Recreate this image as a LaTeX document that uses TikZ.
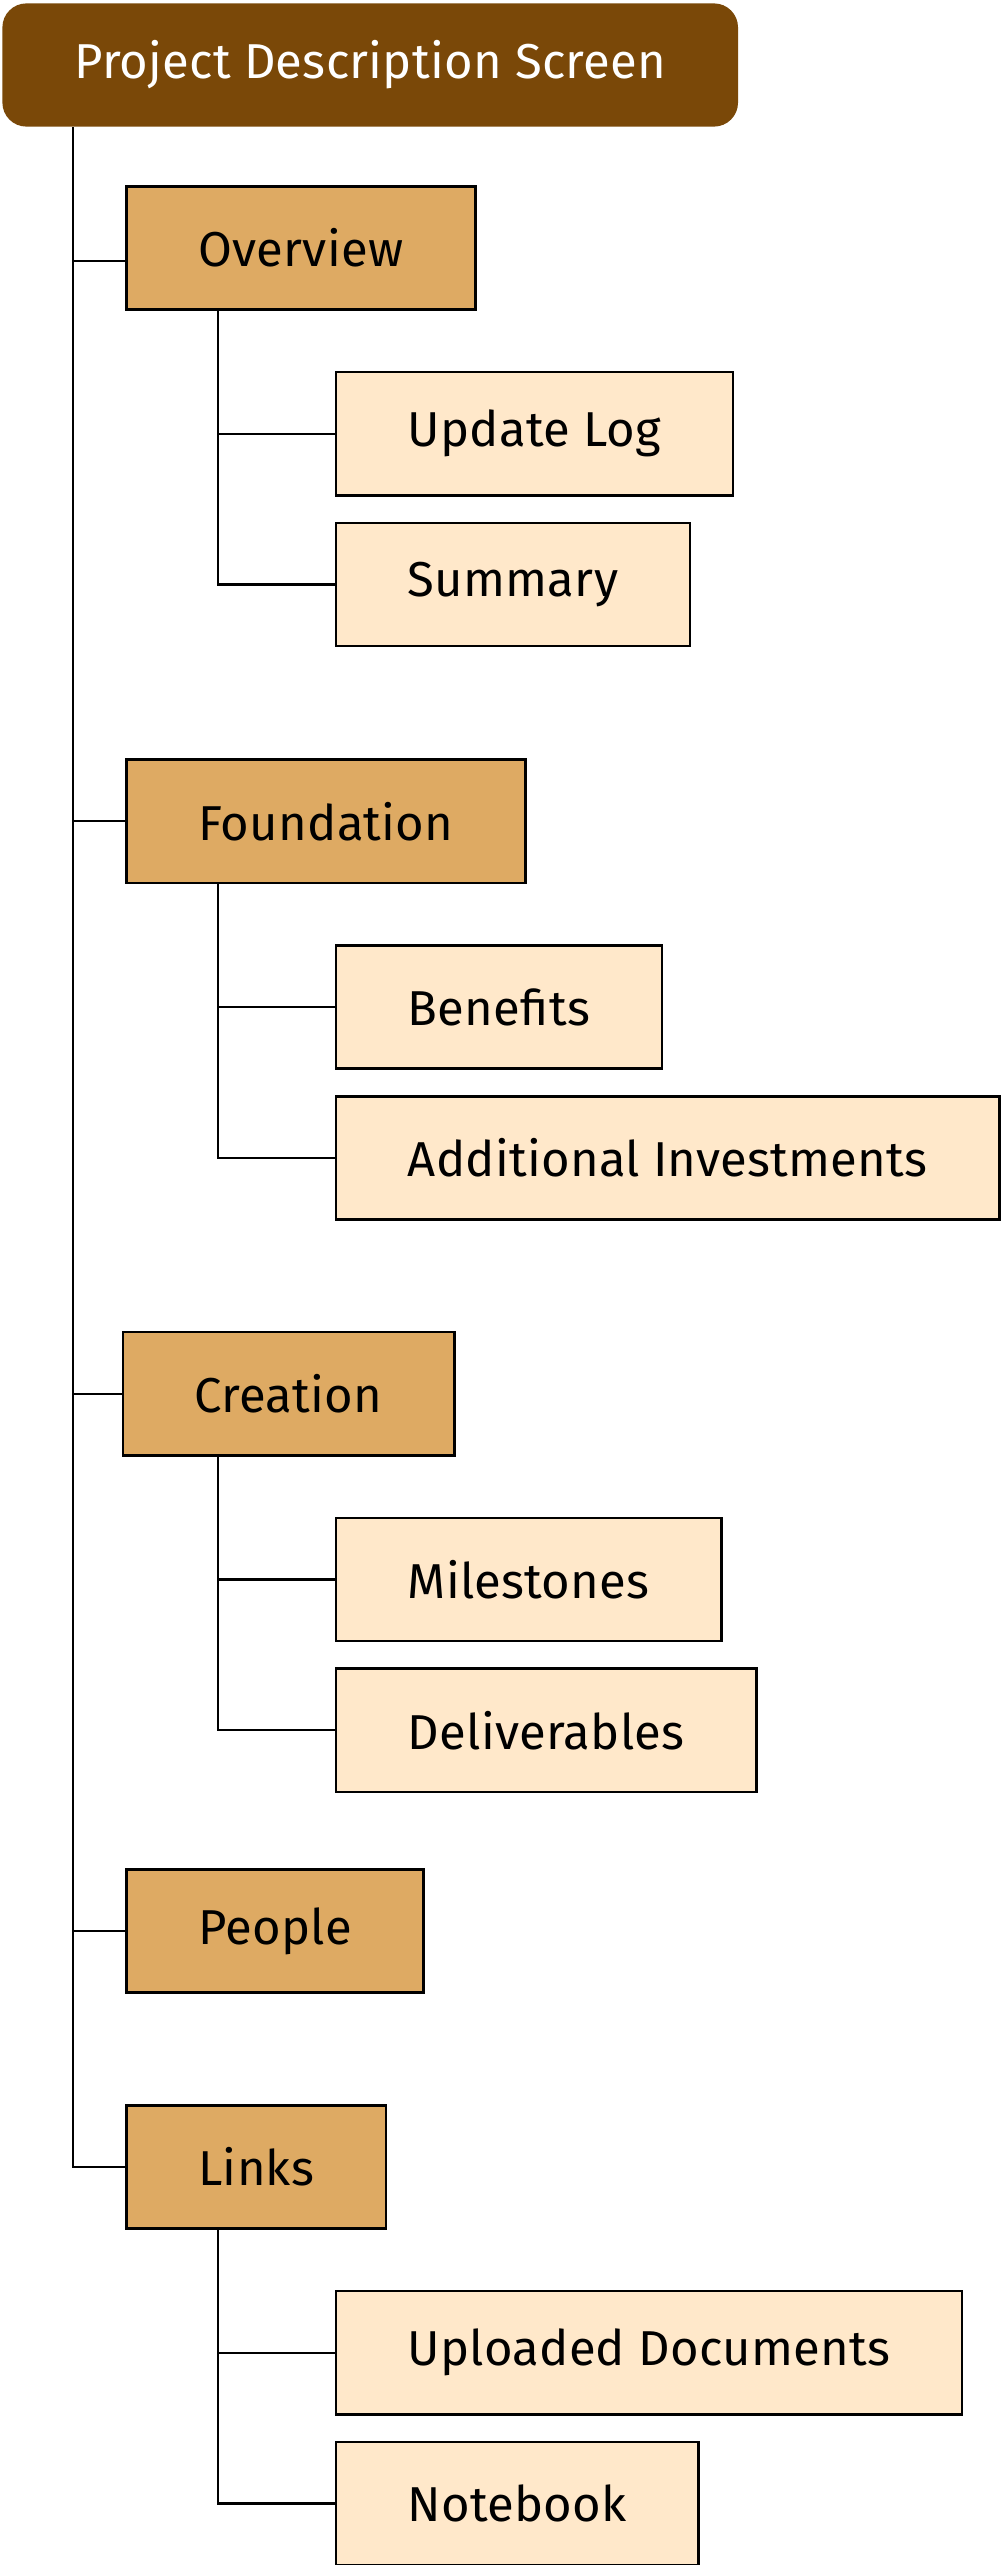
\documentclass[tikz,border=0pt]{standalone}
\usepackage{fontspec}
\setmainfont[LetterSpace=0.5]{Fira Sans}
\usepackage{tikz}
\usetikzlibrary{positioning}

\definecolor{rootbrown}{HTML}{7A4808}
\definecolor{topfill}{HTML}{DEAA63}
\definecolor{subfill}{HTML}{FFE8CA}

\begin{document}
\begin{tikzpicture}[
    rootbox/.style={rectangle, rounded corners=12pt, fill=rootbrown, text=white, inner xsep=36pt, minimum height=61.6pt, font=\fontsize{24.5}{28}\selectfont},
    topbox/.style={rectangle, draw, line width=1.3pt, fill=topfill, inner xsep=36pt, minimum height=61.6pt, font=\fontsize{24.5}{28}\selectfont},
    subbox/.style={topbox, fill=subfill},
    link/.style={line width=1.15pt}
]
\useasboundingbox (0,0) rectangle (501pt,-1282.5pt);

% Root
\node (root) [rootbox, anchor=north west] at (1pt,-1.5pt) {Project Description Screen};

% Overview
\node (ov) [topbox, below right=29pt and 61.5pt of root.south west] {Overview};
\node (ul) [subbox, below right=30pt and 104.75pt of ov.south west] {Update Log};
\node (sm) [subbox, below right=12.5pt and 0pt of ul.south west] {Summary};

% Foundation
\node (fd) [topbox, below right=55.5pt and -104.75pt of sm.south west] {Foundation};
\node (bn) [subbox, below right=30pt and 104.75pt of fd.south west] {Benefits};
\node (ai) [subbox, below right=12.5pt and 0pt of bn.south west] {Additional Investments};

% Creation
\node (cr) [topbox, below right=55pt and -106.5pt of ai.south west] {Creation};
\node (ms) [subbox, below right=30pt and 106.5pt of cr.south west] {Milestones};
\node (dl) [subbox, below right=12.5pt and 0pt of ms.south west] {Deliverables};

% People and Links
\node (pp) [topbox, below right=37.5pt and -104.75pt of dl.south west] {People};
\node (lk) [topbox, below right=55pt and 0pt of pp.south west] {Links};
\node (ud) [subbox, below right=30pt and 104.75pt of lk.south west] {Uploaded Documents};
\node (nb) [subbox, below right=12.5pt and 0pt of ud.south west] {Notebook};

% Connections
\coordinate (trunk) at ([xshift=35.5pt]root.south west);
\draw [link] (trunk) |- (lk.west);
\draw [link] (trunk |- ov.west) ++(0,-6.5pt) -- ([yshift=-6.5pt]ov.west);
\foreach \n in {fd,cr,pp}
  \draw [link] (trunk |- \n.west) -- (\n.west);
\foreach \p/\a/\b in {ov/ul/sm, fd/bn/ai, cr/ms/dl, lk/ud/nb} {
  \path (\p.south -| \a.west) ++(-58.25pt,0) coordinate (\p-st);
  \draw [link] (\p-st) |- (\b.west);
  \draw [link] (\p-st |- \a.west) -- (\a.west);
}

\end{tikzpicture}
\end{document}
